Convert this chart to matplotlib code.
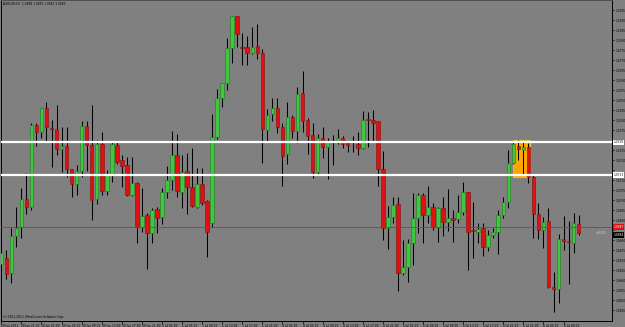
import numpy as np
import matplotlib
matplotlib.use("Agg")
import matplotlib.pyplot as plt
from matplotlib.patches import Rectangle

# hourly AUDUSD candles
opens = [1.0668, 1.0671, 1.06635, 1.0682, 1.06865, 1.07005, 1.06965, 1.07375, 1.0734, 1.0746,
         1.0736, 1.07355, 1.07255, 1.0727, 1.07155, 1.0708, 1.07145, 1.0737, 1.07275, 1.07005,
         1.0728, 1.07045, 1.0713, 1.07275, 1.072, 1.07175, 1.07025, 1.07085, 1.06865, 1.06925,
         1.06835, 1.06955, 1.06915, 1.0704, 1.071, 1.07225, 1.0704, 1.07145, 1.07065, 1.06965,
         1.0708, 1.06995, 1.06885, 1.07315, 1.0751, 1.07585, 1.0776, 1.0792, 1.07765, 1.07765,
         1.07735, 1.0777, 1.07735, 1.0735, 1.0743, 1.0746, 1.07365, 1.0723, 1.07415, 1.07345,
         1.07535, 1.074, 1.07325, 1.0714, 1.0731, 1.07265, 1.07295, 1.07295, 1.0731, 1.07285,
         1.07275, 1.0728, 1.0726, 1.07405, 1.074, 1.07395, 1.07155, 1.0686, 1.06915, 1.0698,
         1.06635, 1.06665, 1.06785, 1.0691, 1.07025, 1.06925, 1.06965, 1.06865, 1.0696, 1.0689,
         1.0691, 1.06905, 1.0694, 1.0704, 1.0685, 1.0684, 1.0686, 1.06765, 1.06825, 1.0684,
         1.06925, 1.0699, 1.07185, 1.0727, 1.0725, 1.07265, 1.07115, 1.0693, 1.0685, 1.06895,
         1.06565, 1.06555, 1.06805, 1.06795, 1.06785, 1.0688]
highs = [1.06785, 1.0675, 1.0686, 1.06965, 1.0706, 1.07135, 1.07385, 1.07385, 1.0746, 1.0749,
         1.074, 1.07475, 1.07365, 1.07365, 1.07155, 1.07175, 1.07395, 1.07395, 1.07475, 1.073,
         1.0734, 1.0715, 1.0729, 1.0729, 1.07225, 1.07215, 1.07215, 1.0709, 1.0706, 1.06935,
         1.0696, 1.06965, 1.0706, 1.0717, 1.07345, 1.0733, 1.07225, 1.07235, 1.0726, 1.0716,
         1.0716, 1.07, 1.0743, 1.07555, 1.07585, 1.0781, 1.0792, 1.0792, 1.07835, 1.0782,
         1.07865, 1.0788, 1.07755, 1.07455, 1.0751, 1.0751, 1.07385, 1.0749, 1.07425, 1.07565,
         1.07645, 1.0741, 1.07385, 1.0733, 1.07365, 1.0731, 1.07325, 1.07355, 1.0732, 1.0729,
         1.0732, 1.0734, 1.07445, 1.0744, 1.0745, 1.07395, 1.07245, 1.0697, 1.07015, 1.07015,
         1.068, 1.06805, 1.07035, 1.07035, 1.07035, 1.0707, 1.06985, 1.06965, 1.07015, 1.07055,
         1.0695, 1.07025, 1.0709, 1.0704, 1.0699, 1.06885, 1.06885, 1.0685, 1.0686, 1.0695,
         1.07015, 1.0725, 1.07295, 1.073, 1.07295, 1.07285, 1.0713, 1.06985, 1.06915, 1.0696,
         1.0664, 1.0683, 1.0692, 1.06895, 1.06935, 1.06925]
lows = [1.0665, 1.06605, 1.06585, 1.06765, 1.0681, 1.0693, 1.0695, 1.0727, 1.0731, 1.07295,
        1.07165, 1.07225, 1.0714, 1.07115, 1.07015, 1.07025, 1.07115, 1.07145, 1.069, 1.0698,
        1.07025, 1.07025, 1.0709, 1.0718, 1.07065, 1.0702, 1.0702, 1.06785, 1.0684, 1.06655,
        1.06785, 1.06835, 1.0688, 1.0701, 1.0705, 1.07015, 1.0696, 1.0693, 1.06965, 1.0696,
        1.06975, 1.06715, 1.06865, 1.07305, 1.07465, 1.0755, 1.07685, 1.07765, 1.07675, 1.07675,
        1.0773, 1.07705, 1.07185, 1.0729, 1.07395, 1.07335, 1.0707, 1.0718, 1.0731, 1.07285,
        1.0734, 1.0723, 1.0711, 1.0713, 1.0721, 1.07105, 1.07175, 1.0728, 1.0726, 1.0724,
        1.0724, 1.07225, 1.07255, 1.07265, 1.07295, 1.0707, 1.068, 1.06755, 1.06885, 1.06545,
        1.06625, 1.0659, 1.06675, 1.06835, 1.06785, 1.06885, 1.0685, 1.0679, 1.0682, 1.06845,
        1.0679, 1.06885, 1.06925, 1.0665, 1.0671, 1.06785, 1.0672, 1.06745, 1.0681, 1.0673,
        1.0691, 1.0696, 1.0718, 1.072, 1.0713, 1.07085, 1.0681, 1.06805, 1.0676, 1.0656,
        1.0644, 1.06485, 1.0675, 1.0658, 1.06735, 1.06825]
closes = [1.06735, 1.0663, 1.0682, 1.0686, 1.07005, 1.06965, 1.07375, 1.0734, 1.0746, 1.07365,
          1.07355, 1.07255, 1.0727, 1.07155, 1.0708, 1.07145, 1.0737, 1.07275, 1.07, 1.0728,
          1.07045, 1.0713, 1.0728, 1.0719, 1.0717, 1.07025, 1.07085, 1.06865, 1.0692, 1.06835,
          1.0695, 1.0691, 1.0704, 1.071, 1.07225, 1.07045, 1.0714, 1.07065, 1.0697, 1.0708,
          1.06985, 1.0684, 1.07315, 1.0751, 1.07585, 1.0776, 1.0792, 1.0783, 1.0776, 1.07735,
          1.07765, 1.07735, 1.07355, 1.07425, 1.0746, 1.07365, 1.0722, 1.07415, 1.07345, 1.0753,
          1.07395, 1.0732, 1.0714, 1.0731, 1.07265, 1.07295, 1.07295, 1.0731, 1.0728, 1.07275,
          1.07275, 1.0726, 1.074, 1.074, 1.07385, 1.07155, 1.0686, 1.06915, 1.06975, 1.06635,
          1.06665, 1.06785, 1.0691, 1.07025, 1.06925, 1.06965, 1.06865, 1.0696, 1.0689, 1.0691,
          1.069, 1.0694, 1.0704, 1.0684, 1.06845, 1.06855, 1.06765, 1.06825, 1.0684, 1.06925,
          1.0699, 1.07185, 1.0728, 1.07255, 1.07265, 1.07115, 1.0693, 1.0685, 1.0689, 1.06565,
          1.06555, 1.06805, 1.06795, 1.0679, 1.06885, 1.06835]

time_labels = ["29 Jun 2011", "29 Jun 21:00", "30 Jun 01:00", "30 Jun 05:00", "30 Jun 09:00",
               "30 Jun 13:00", "30 Jun 17:00", "30 Jun 21:00", "1 Jul 01:00", "1 Jul 05:00",
               "1 Jul 09:00", "1 Jul 13:00", "1 Jul 17:00", "1 Jul 21:00", "4 Jul 01:00",
               "4 Jul 05:00", "4 Jul 09:00", "4 Jul 13:00", "4 Jul 17:00", "4 Jul 21:00",
               "5 Jul 01:00", "5 Jul 05:00", "5 Jul 09:00", "5 Jul 13:00", "5 Jul 17:00",
               "5 Jul 21:00", "6 Jul 01:00", "6 Jul 05:00", "6 Jul 09:00"]

# horizontal levels drawn on the chart
levels = [1.07288, 1.07125]
bid = 1.06865
ask = 1.06845
zone = (102, 105, 1.07115, 1.07300)   # first bar, last bar, low, high

bg = "#808080"
up_fill, up_edge = "#3ec83e", "#1f7a1f"
dn_fill, dn_edge = "#e01010", "#801010"
fs = 2.1   # the terminal's text is tiny

o = np.array(opens)
h = np.array(highs)
l = np.array(lows)
c = np.array(closes)
x = np.arange(len(o))
up = c >= o

fig = plt.figure(figsize=(6.25, 3.27), dpi=100)
fig.patch.set_facecolor(bg)
ax = fig.add_axes([1 / 625, 6.5 / 327, 611 / 625, 320.5 / 327])
ax.set_facecolor(bg)

# orange zone sits behind the candles
z0, z1, zl, zh = zone
ax.add_patch(Rectangle((z0 - 0.05, zl), z1 - z0 + 0.4, zh - zl,
                       facecolor="#ffa500", edgecolor="#d8c040", lw=0.8, zorder=1))

ax.vlines(x, l, h, color="black", lw=0.75, zorder=2)
body = np.maximum(np.abs(c - o), 0.00002)
bottom = np.minimum(o, c)
ax.bar(x[up], body[up], bottom=bottom[up], width=0.72,
       color=up_fill, edgecolor=up_edge, linewidth=0.4, zorder=3)
ax.bar(x[~up], body[~up], bottom=bottom[~up], width=0.72,
       color=dn_fill, edgecolor=dn_edge, linewidth=0.4, zorder=3)

for lv in levels:
    ax.axhline(lv, color="white", lw=1.6, zorder=4)
ax.axhline(bid, color="#b03030", lw=0.6, zorder=4)

ax.set_xlim(-0.06, 121.65)
ax.set_ylim(1.063975, 1.0800)

# price scale on the right; labels hidden under the level boxes are left blank
ax.yaxis.tick_right()
yt = np.arange(1.0645, 1.07951, 0.0005)
boxed = levels + [bid, ask - 0.0002]
ylabels = []
for v in yt:
    if min(abs(v - b) for b in boxed) < 0.00025:
        ylabels.append("")
    else:
        ylabels.append(f"{v:.4f}")
ax.set_yticks(yt)
ax.set_yticklabels(ylabels)
ax.tick_params(axis="y", labelsize=fs, length=1.5, width=0.5, pad=0.8, colors="black")

# time scale
ax.set_xticks(np.arange(len(time_labels)) * 4)
ax.set_xticklabels(time_labels, ha="left")
ax.tick_params(axis="x", labelsize=fs, length=1.8, width=0.5, pad=0.6, colors="black")

for s in ax.spines.values():
    s.set_color("black")
    s.set_linewidth(0.7)
ax.spines["top"].set_color("#505050")

ytr = ax.get_yaxis_transform()
for lv in levels:
    ax.text(1.002, lv, f"{lv:.4f}", transform=ytr, fontsize=fs, va="center",
            ha="left", color="black", clip_on=False,
            bbox=dict(boxstyle="square,pad=0.2", fc="white", ec="none"))
ax.text(1.002, bid, f"{bid:.4f}", transform=ytr, fontsize=fs, va="center", ha="left",
        color="white", clip_on=False,
        bbox=dict(boxstyle="square,pad=0.2", fc="#e01010", ec="none"))
ax.text(1.002, ask - 0.0002, f"{ask:.4f}", transform=ytr, fontsize=fs, va="center",
        ha="left", color="white", clip_on=False,
        bbox=dict(boxstyle="square,pad=0.2", fc="black", ec="none"))

ax.text(118.4, closes[-1], "<10:55", fontsize=fs, color="#d8d8d8", va="center")

ax.text(0.003, 0.995, f"AUDUSD,H1  {opens[-1]:.4f} {highs[-1]:.4f} {lows[-1]:.4f} {closes[-1]:.4f}",
        transform=ax.transAxes, fontsize=fs, va="top", ha="left", color="black")
ax.text(0.003, 0.004, "(c) 2001-2013, MetaQuotes Software Corp.",
        transform=ax.transAxes, fontsize=fs, va="bottom", ha="left", color="black")

fig.savefig("out.png", dpi=100, facecolor=bg)
